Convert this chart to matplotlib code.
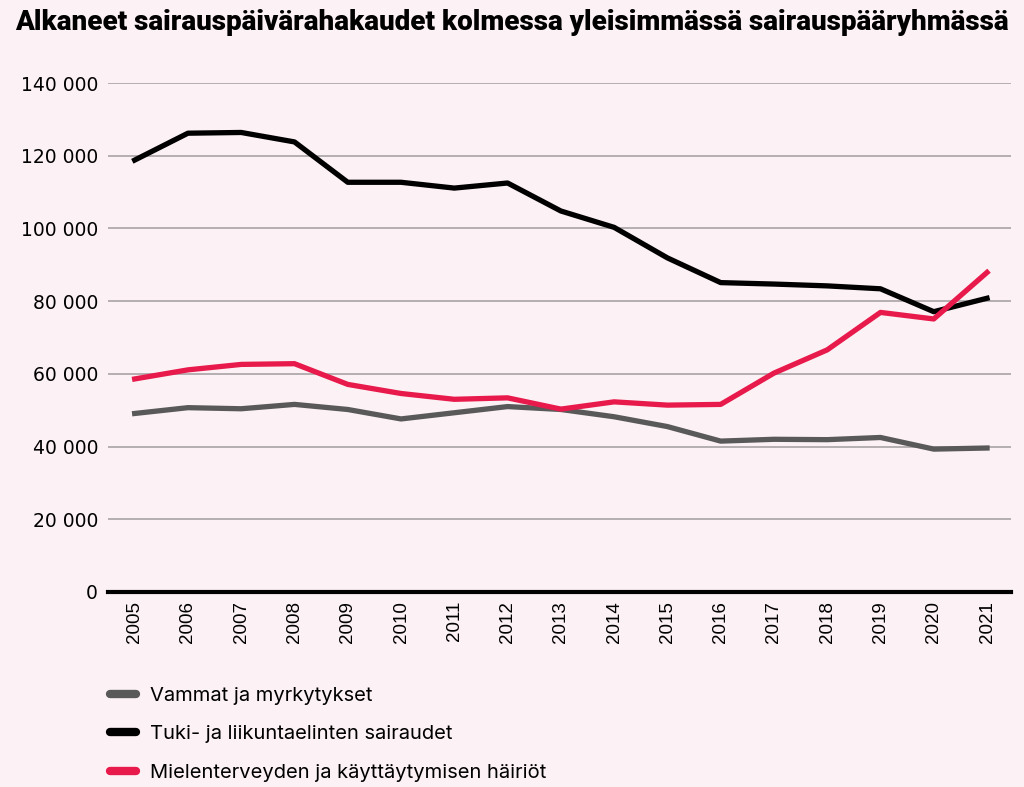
import matplotlib.pyplot as plt

years = list(range(2005, 2022))
vammat = [49100, 50700, 50400, 51600, 50200, 47600, 49300, 51000, 50200,
          48200, 45500, 41500, 42000, 41900, 42500, 39300, 39600]
tuki = [118800, 126200, 126400, 123800, 112700, 112700, 111100, 112500, 104800,
        100300, 91900, 85100, 84700, 84200, 83400, 77100, 80800]
mielenterveys = [58600, 61100, 62600, 62800, 57100, 54600, 53000, 53400, 50300,
                 52300, 51400, 51600, 60200, 66600, 76900, 75100, 87900]
series_names = ["Vammat ja myrkytykset", "Tuki- ja liikuntaelinten sairaudet",
                "Mielenterveyden ja käyttäytymisen häiriöt"]
yticks = [0, 20000, 40000, 60000, 80000, 100000, 120000, 140000]
ytick_labels = ["0", "20 000", "40 000", "60 000", "80 000", "100 000", "120 000", "140 000"]

bg = "#fcf1f4"
colors = ["#595959", "#000000", "#e8194b"]

fig = plt.figure(figsize=(10.24, 7.87), dpi=100, facecolor=bg)
ax = fig.add_axes([0.1055, 0.2478, 0.8818, 0.6467], facecolor=bg)

lines = []
for vals, c, name in zip([vammat, tuki, mielenterveys], colors, series_names):
    ln, = ax.plot(years, vals, color=c, lw=3.8, label=name, zorder=3)
    lines.append(ln)

ax.set_xlim(2004.5, 2021.45)
ax.set_ylim(0, 140000)
ax.set_yticks(yticks)
ax.set_yticklabels(ytick_labels, fontsize=13.5, family="DejaVu Sans")
ax.set_xticks(years)
ax.set_xticklabels([str(y) for y in years], rotation=90, fontsize=13.5,
                   family="Liberation Sans")
ax.tick_params(axis="y", length=0, pad=7.2)
ax.tick_params(axis="x", length=0, pad=6.5)
ax.grid(axis="y", color="#a8a4a6", lw=1.2)
ax.set_axisbelow(True)
for s in ["top", "right", "left"]:
    ax.spines[s].set_visible(False)
ax.spines["bottom"].set_linewidth(3)
ax.spines["bottom"].set_zorder(4)

fig.text(0.5, 0.972, "Alkaneet sairauspäivärahakaudet kolmessa yleisimmässä sairauspääryhmässä",
         ha="center", va="center", fontsize=20, fontweight="heavy", family="Roboto")

leg = fig.legend(handles=lines, loc="upper left", bbox_to_anchor=(0.090, 0.150),
                 frameon=False, handlelength=1.3, handletextpad=0.65,
                 labelspacing=1.0, prop={"family": "Inter", "size": 14.5})
for h in leg.legend_handles:
    h.set_linewidth(6)
    h.set_solid_capstyle("round")

fig.savefig("out.png", dpi=100, facecolor=bg)
